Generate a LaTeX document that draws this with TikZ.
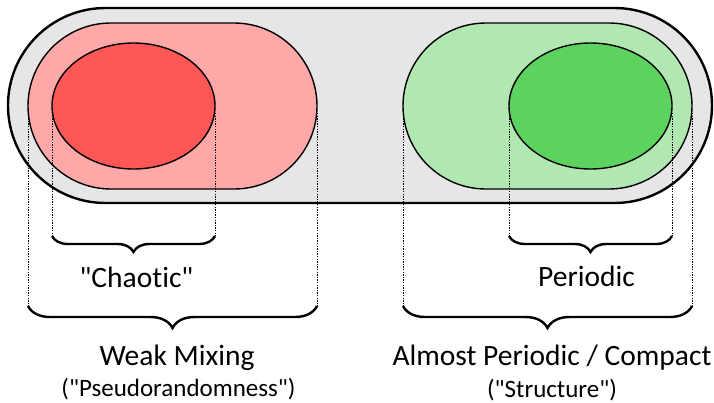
\documentclass[tikz,border=0pt]{standalone}
\usepackage{fontspec}
\setmainfont{Carlito}[Ligatures={TeXOff,NoCommon}]
\usetikzlibrary{shapes.misc,shapes.geometric,decorations.pathreplacing,calc}
\definecolor{outergray}{HTML}{E6E6E6}
\definecolor{lightred}{HTML}{FFA8A8}
\definecolor{strongred}{HTML}{FF5656}
\definecolor{lightgreen}{HTML}{B1E8B1}
\definecolor{stronggreen}{HTML}{5DD35F}
\begin{document}
\begin{tikzpicture}[x=1pt,y=-1pt,
  region/.style={draw=black,line width=1.4pt,inner sep=0pt,outer sep=0pt},
  guide/.style={line width=0.8pt,dash pattern=on 1.3pt off 1.3pt},
  bracebig/.style={decorate,decoration={brace,mirror,amplitude=#1},line width=2.4pt},
  bigtext/.style={font=\fontsize{29.5}{34}\selectfont,anchor=base,inner sep=0pt},
  smalltext/.style={font=\fontsize{25}{30}\selectfont,anchor=base,inner sep=0pt}]
\useasboundingbox (0,0) rectangle (714,402);
% regions
\node[region,rounded rectangle,fill=outergray,line width=2.4pt,minimum width=704pt,minimum height=195pt] (outer) at (360,105.5) {};
\node[region,rounded rectangle,fill=lightred,minimum width=289pt,minimum height=166pt] (wm) at (172.5,106) {};
\node[region,ellipse,fill=strongred,minimum width=163pt,minimum height=126pt] (chaos) at (133.5,106) {};
\node[region,rounded rectangle,fill=lightgreen,minimum width=289pt,minimum height=166pt] (ap) at (547.5,106) {};
\node[region,ellipse,fill=stronggreen,minimum width=163pt,minimum height=126pt] (per) at (590.5,106) {};
% brace end points
\coordinate (cl) at (52,236);
\coordinate (cr) at (215,236);
\coordinate (pl) at (509,236);
\coordinate (pr) at (672,236);
\coordinate (wl) at (28,306);
\coordinate (wr) at (317,306);
\coordinate (al) at (403,306);
\coordinate (ar) at (692,306);
% dotted guides
\draw[guide] ([yshift=-7pt]chaos.west) -- (cl);
\draw[guide] ([yshift=-7pt]chaos.east) -- (cr);
\draw[guide] ([yshift=-7pt]per.west) -- (pl);
\draw[guide] ([yshift=-7pt]per.east) -- (pr);
\draw[guide] ([yshift=-7pt]wm.west) -- (wl);
\draw[guide] ([yshift=-7pt]wm.east) -- (wr);
\draw[guide] ([yshift=-7pt]ap.west) -- (al);
\draw[guide] ([yshift=-7pt]ap.east) -- (ar);
% braces
\draw[bracebig=16pt] (cl) -- (cr);
\draw[bracebig=16pt] (pl) -- (pr);
\draw[bracebig=22pt] (wl) -- (wr);
\draw[bracebig=22pt] (al) -- (ar);
% labels
\node[bigtext] (tchaos) at (136.5,287) {"Chaotic"};
\node[bigtext] (tper) at (586.5,286) {Periodic};
\node[bigtext] (twm) at (177,365) {Weak Mixing};
\node[bigtext] (tap) at (552,365) {Almost Periodic / Compact};
\node[smalltext] (tpr) at (178.5,396) {("Pseudorandomness")};
\node[smalltext] (tst) at (552,397) {("Structure")};
\end{tikzpicture}
\end{document}
